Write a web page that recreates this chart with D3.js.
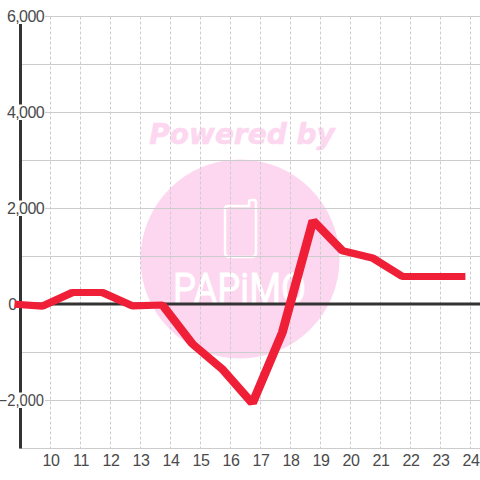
<!DOCTYPE html>
<html><head><meta charset="utf-8">
<script src="https://cdn.jsdelivr.net/npm/d3@7/dist/d3.min.js"></script>
<style>html,body{margin:0;padding:0;background:#fff}svg{display:block}text{font-family:"Liberation Sans",Arial,sans-serif}</style>
</head><body><div id="c"></div>
<script>
const hours=[8.95,9.73,10.73,11.73,12.73,13.73,14.73,15.73,16.73,17.73,18.75,19.73,20.73,21.73,22.73,23.68];
const values=[0,-35,250,250,-30,-10,-820,-1350,-2060,-580,1750,1120,970,583,583,583];
const xTicks=[10,11,12,13,14,15,16,17,18,19,20,21,22,23,24];
const yMajor=[6000,4000,2000,0,-2000];
const yGrid=[6000,5000,4000,3000,2000,1000,0,-1000,-2000,-3000];

const svg=d3.select("#c").append("svg").attr("width",480).attr("height",480);
const x=d3.scaleLinear().domain([9,24]).range([20.5,470.5]);
const y=d3.scaleLinear().domain([6000,-3000]).range([16.5,448.5]);

// watermark
const wm=svg.append("g");
wm.append("circle").attr("cx",240).attr("cy",259).attr("r",99.5).attr("fill","#fcd7ef");
wm.append("text").attr("x",242).attr("y",144).attr("text-anchor","middle")
  .style("font-family","'DejaVu Sans'").style("font-weight","bold").style("font-style","italic")
  .style("font-size","28px").attr("fill","#fcd7ef").attr("stroke","#fcd7ef").attr("stroke-width",.6).text("Powered by");
wm.append("path").attr("d","M228 206H249V201.5Q249 200 252 200H254Q256 200 256 203V252Q256 257 252 257H229Q225 257 225 252V209Q225 206 228 206Z")
  .attr("fill","none").attr("stroke","#fff").attr("stroke-width",2.5);
wm.append("text").attr("x",173).attr("y",303).attr("textLength",133).attr("lengthAdjust","spacingAndGlyphs")
  .style("font-family","Roboto").style("font-weight","400")
  .style("font-size","42px").attr("fill","#fff").attr("stroke","#fff").attr("stroke-width",.8).text("PAPiMO");

// grid
svg.append("g").selectAll("line").data(yGrid).join("line")
  .attr("x1",20).attr("x2",480).attr("y1",d=>y(d)).attr("y2",d=>y(d))
  .attr("stroke","#ccc").attr("stroke-width",1);
svg.append("g").selectAll("line").data(xTicks).join("line")
  .attr("x1",d=>x(d)).attr("x2",d=>x(d)).attr("y1",y(6000)).attr("y2",y(-3000))
  .attr("stroke","#ccc").attr("stroke-width",1).attr("stroke-dasharray","3 2");

// axes
svg.append("line").attr("x1",20.5).attr("x2",20.5).attr("y1",y(6000)).attr("y2",y(-3000)).attr("stroke","#333").attr("stroke-width",3);
svg.append("line").attr("x1",20).attr("x2",480).attr("y1",y(0)-.5).attr("y2",y(0)-.5).attr("stroke","#333").attr("stroke-width",3);

// y labels with white backing
const yl=svg.append("g").selectAll("g").data(yMajor).join("g");
yl.filter(d=>d!==0).append("rect").attr("x",d=>d<0?0:4).attr("width",d=>d<0?45:41).attr("y",d=>y(d)-8).attr("height",15.5).attr("fill","#fff");
yl.append("text").attr("x",d=>d===0?16.5:44).attr("y",d=>y(d)+5.5).attr("text-anchor","end")
  .attr("transform",d=>d<0?`translate(44,0) scale(0.92,1) translate(-44,0)`:null)
  .style("font-size","16px").style("letter-spacing",d=>d<0?"0":"-0.6px").attr("fill","#4a4a4a").text(d=>d3.format(",")(d));

// x labels
svg.append("g").selectAll("text").data(xTicks).join("text")
  .attr("x",d=>x(d)+.5).attr("y",466).attr("text-anchor","middle")
  .style("font-size","16px").style("letter-spacing","-0.4px").attr("fill","#4a4a4a").text(d=>d);

// series: pen is slightly flattened vertically, as in the reference
const penSquash=0.8;
svg.append("g").attr("transform",`scale(1,${penSquash})`)
  .append("path").datum(hours.map((h,i)=>[h,values[i]]))
  .attr("d",d3.line().x(d=>x(d[0])).y(d=>y(d[1])/penSquash))
  .attr("fill","none").attr("stroke","#f01f38").attr("stroke-width",9)
  .attr("stroke-linejoin","bevel").attr("stroke-linecap","square");
</script></body></html>
